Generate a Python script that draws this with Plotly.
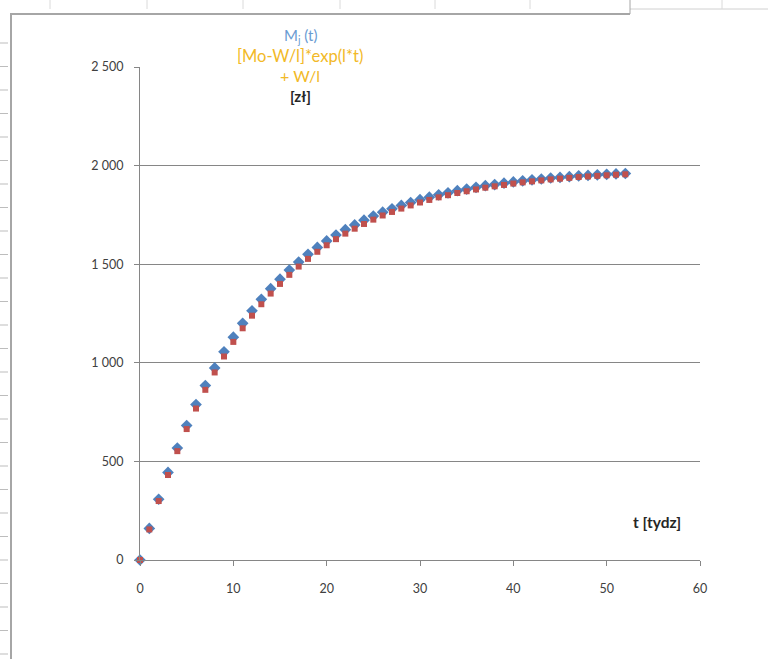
import plotly.graph_objects as go

# ---- data ----
t_weeks = list(range(53))
m_discrete = [0, 160, 308, 444, 568, 682, 788, 885, 974, 1056, 1130, 1200, 1264, 1322,
              1376, 1424, 1470, 1511, 1550, 1585, 1618, 1648, 1675, 1699, 1723, 1744,
              1764, 1781, 1798, 1813, 1827, 1840, 1852, 1862, 1873, 1881, 1890, 1898,
              1904, 1911, 1917, 1923, 1928, 1932, 1937, 1940, 1944, 1948, 1950, 1953,
              1956, 1958, 1960]
m_exp = [0, 155, 299, 431, 552, 664, 768, 863, 951, 1032, 1106, 1175, 1239, 1297,
         1351, 1400, 1446, 1488, 1527, 1563, 1596, 1627, 1655, 1680, 1704, 1726,
         1747, 1765, 1782, 1798, 1813, 1826, 1839, 1850, 1861, 1870, 1879, 1888,
         1895, 1902, 1909, 1915, 1920, 1925, 1930, 1934, 1938, 1942, 1945, 1948,
         1951, 1954, 1956]
x_tick_values = [0, 10, 20, 30, 40, 50, 60]
y_tick_values = [0, 500, 1000, 1500, 2000, 2500]
y_tick_labels = ["0", "500", "1 000", "1 500", "2 000", "2 500"]

W, H = 768, 659
ML, MR, MT, MB = 140, 68, 67, 99
PW, PH = W - ML - MR, H - MT - MB


def px(x):
    return (x - ML) / PW


def py(y):
    return (H - MB - y) / PH


FONT = "Lato, 'Open Sans', sans-serif"
AX = "#868686"

fig = go.Figure()
fig.add_trace(go.Scatter(x=t_weeks, y=m_discrete, mode="markers", cliponaxis=False,
                         marker=dict(symbol="diamond", size=9, color="#4F81BD"),
                         name="Mj (t)"))
fig.add_trace(go.Scatter(x=t_weeks, y=m_exp, mode="markers", cliponaxis=False,
                         marker=dict(symbol="square", size=6, color="#C0504D"),
                         name="[Mo-W/l]*exp(l*t) + W/l"))

fig.update_layout(
    width=W, height=H, margin=dict(l=ML, r=MR, t=MT, b=MB),
    paper_bgcolor="white", plot_bgcolor="white", showlegend=False,
    font=dict(family=FONT, size=12, color="#404040"),
    xaxis=dict(range=[0, 60], tickvals=x_tick_values, showgrid=False, zeroline=False,
               showline=True, linecolor=AX, linewidth=1, ticks="outside", ticklen=5,
               tickcolor=AX, ticklabelstandoff=12, tickfont=dict(size=12.5, color="#404040")),
    yaxis=dict(range=[0, 2500], tickvals=y_tick_values, ticktext=y_tick_labels,
               showgrid=True, gridcolor=AX, gridwidth=1, zeroline=False,
               showline=True, linecolor=AX, linewidth=1, ticks="outside", ticklen=5,
               tickcolor=AX, ticklabelstandoff=8, tickfont=dict(size=12.5, color="#404040")),
)

ann = [
    ("M<sub>j</sub> (t)", 300, 36, "#6A9BD2", 15),
    ("[Mo-W/l]*exp(l*t)", 300, 56, "#F2B927", 16.5),
    ("+ W/l", 300, 76, "#F2B927", 16),
    ("<b>[zł]</b>", 300, 96, "#262626", 15),
    ("<b>t [tydz]</b>", 657, 522, "#262626", 15.5),
]
for text, x, y, col, size in ann:
    fig.add_annotation(text=text, x=px(x), y=py(y), xref="paper", yref="paper",
                       showarrow=False, font=dict(family=FONT, size=size, color=col),
                       xanchor="center", yanchor="middle")

# Excel-like frame around the chart
shapes = []
line_c = "#A6A6A6"
shapes.append(dict(type="line", xref="paper", yref="paper", x0=px(10), x1=px(630),
                   y0=py(14), y1=py(14), line=dict(color=line_c, width=2)))
shapes.append(dict(type="line", xref="paper", yref="paper", x0=px(630), x1=px(768),
                   y0=py(9), y1=py(9), line=dict(color="#D0D0D0", width=1)))
shapes.append(dict(type="line", xref="paper", yref="paper", x0=px(630), x1=px(630),
                   y0=py(0), y1=py(14), line=dict(color=line_c, width=1)))
shapes.append(dict(type="line", xref="paper", yref="paper", x0=px(11), x1=px(11),
                   y0=py(14), y1=py(659), line=dict(color=line_c, width=2)))
for cx in [50, 147, 243, 340, 435, 530, 722]:
    shapes.append(dict(type="line", xref="paper", yref="paper", x0=px(cx), x1=px(cx),
                       y0=py(0), y1=py(9), line=dict(color="#DADADA", width=1)))
ry = 43
while ry < 659:
    shapes.append(dict(type="line", xref="paper", yref="paper", x0=px(0), x1=px(8),
                       y0=py(ry), y1=py(ry), line=dict(color="#BDBDBD", width=1)))
    ry += 23.5
fig.update_layout(shapes=shapes)

fig.write_html("out.html")
